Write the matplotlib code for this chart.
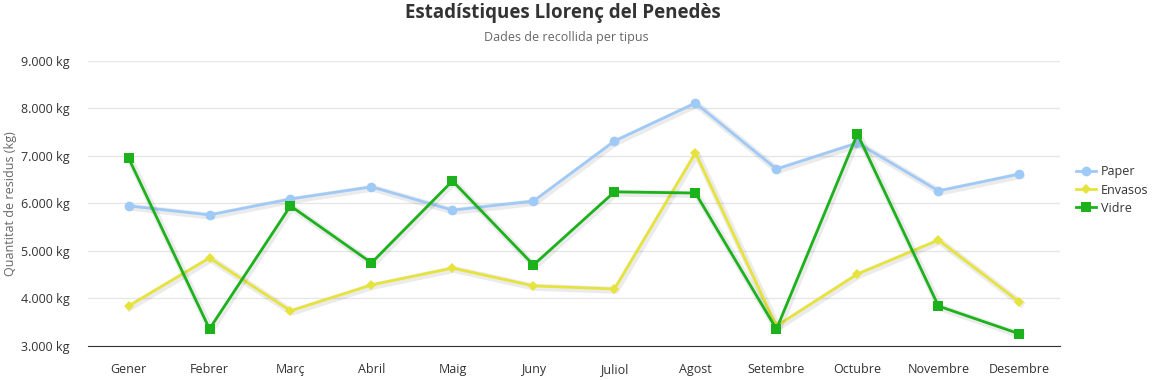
import matplotlib.pyplot as plt
import matplotlib.patheffects as pe
from matplotlib.ticker import FuncFormatter

plt.rcParams['font.family'] = ['Open Sans', 'DejaVu Sans']

mesos = ['Gener', 'Febrer', 'Març', 'Abril', 'Maig', 'Juny', 'Juliol',
         'Agost', 'Setembre', 'Octubre', 'Novembre', 'Desembre']
paper = [5950, 5760, 6095, 6350, 5860, 6050, 7315, 8115, 6725, 7275, 6265, 6620]
envasos = [3840, 4855, 3740, 4285, 4640, 4265, 4200, 7065, 3420, 4515, 5230, 3925]
vidre = [6960, 3360, 5950, 4750, 6475, 4705, 6245, 6220, 3355, 7465, 3840, 3255]

series = [
    ('Paper', paper, '#9fcaf7', 'o', 7),
    ('Envasos', envasos, '#e6e33c', 'D', 5.5),
    ('Vidre', vidre, '#1bb21b', 's', 7),
]

fig = plt.figure(figsize=(11.55, 3.8), dpi=100)
ax = fig.add_axes([0.0762, 0.0895, 0.9177 - 0.0762, 0.8395 - 0.0895])

x = list(range(len(mesos)))
handles = []
for i, (name, vals, col, mk, ms) in enumerate(series):
    # line with soft shadow
    ax.plot(x, vals, color=col, lw=2, zorder=3 + i,
            path_effects=[pe.SimpleLineShadow(offset=(1, -1), shadow_color='k',
                                              alpha=0.08, linewidth=5),
                          pe.Normal()])
    ax.plot(x, vals, ls='none', marker=mk, markersize=ms, color=col,
            markeredgewidth=0, zorder=3 + i)
    handles.append(plt.Line2D([], [], color=col, lw=2, marker=mk,
                              markersize=ms, markeredgewidth=0, label=name))

ax.set_xlim(-0.5, 11.5)
ax.set_ylim(3000, 9000)
ax.set_yticks(range(3000, 9001, 1000))
ax.yaxis.set_major_formatter(FuncFormatter(lambda v, p: '{:,.0f} kg'.format(v).replace(',', '.')))
ax.set_xticks(x)
ax.set_xticklabels(mesos)
ax.grid(axis='y', color='#e6e6e6', lw=1)
ax.set_axisbelow(True)
for s in ['top', 'right', 'left']:
    ax.spines[s].set_visible(False)
ax.spines['bottom'].set_color('#333333')
ax.tick_params(axis='both', length=0, labelsize=9, colors='#333333')
ax.tick_params(axis='x', pad=12)
ax.tick_params(axis='y', pad=13)
ax.set_ylabel('Quantitat de residus (kg)', fontsize=9, color='#666666', labelpad=2)
ax.yaxis.set_label_coords(-0.0735, 0.5)

fig.text(0.487, 0.965, 'Estadístiques Llorenç del Penedès', ha='center', va='center',
         fontsize=13.5, fontweight='bold', color='#333333')
fig.text(0.49, 0.9, 'Dades de recollida per tipus', ha='center', va='center',
         fontsize=9, color='#666666')

leg = fig.legend(handles=handles, loc='center left', bbox_to_anchor=(0.922, 0.5),
                 frameon=False, fontsize=9, handlelength=1.6, handletextpad=0.4,
                 labelspacing=0.4)
for t in leg.get_texts():
    t.set_color('#333333')

fig.savefig('out.png', dpi=100)
